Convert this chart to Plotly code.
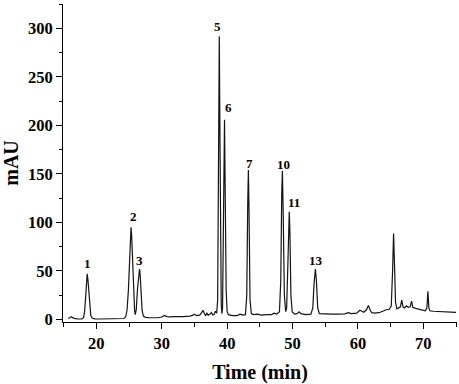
import plotly.graph_objects as go

# Chromatogram trace (time in min, signal in mAU)
time_min = [
    15.7, 16.0, 16.2, 16.45, 16.8, 17.3, 17.8,
    18.05, 18.2, 18.35, 18.5, 18.6, 18.7, 18.85, 19.0, 19.15, 19.4, 19.8,
    20.5, 21.5, 22.5, 23.5, 24.2,
    24.5, 24.7, 24.9, 25.05, 25.2, 25.3, 25.4, 25.55, 25.7, 25.85, 25.95,
    26.1, 26.3, 26.5, 26.6, 26.7, 26.85, 27.0, 27.2, 27.5,
    28.0, 28.5, 29.0, 29.5, 30.0, 30.4, 30.8, 31.3, 31.8, 32.3, 32.8, 33.3,
    33.8, 34.3, 34.8, 35.0, 35.3, 35.8, 36.1, 36.3, 36.5, 36.7, 36.9, 37.1,
    37.4, 37.6, 37.8, 38.0, 38.2, 38.4,
    38.55, 38.68, 38.8, 38.9, 39.0, 39.1, 39.2,
    39.3, 39.45, 39.6, 39.72, 39.85, 40.0, 40.2,
    40.8, 41.5, 42.0, 42.4, 42.8,
    43.0, 43.15, 43.25, 43.35, 43.5, 43.7, 44.0, 44.6, 45.2, 46.0, 46.8,
    47.2, 47.6, 48.0,
    48.2, 48.35, 48.45, 48.57, 48.75, 48.95, 49.1,
    49.3, 49.45, 49.5, 49.6, 49.75, 49.95, 50.3, 50.7, 51.0, 51.3, 52.0,
    52.8, 53.1,
    53.3, 53.5, 53.65, 53.85, 54.1, 55.0, 56.0, 57.0, 58.0, 58.5, 59.0,
    59.8, 60.1, 60.3, 60.6, 60.9, 61.3, 61.6, 61.85, 62.1, 62.6, 63.2, 63.8,
    64.3, 64.8, 65.1,
    65.3, 65.45, 65.6, 65.75, 65.95, 66.2, 66.5, 66.7, 66.9, 67.1, 67.4,
    67.7, 68.0, 68.2, 68.4, 68.8, 69.3, 69.8, 70.3, 70.55, 70.7, 70.85,
    71.0, 71.5, 72.5, 73.5, 74.5, 75.0,
]
signal_mau = [
    1.0, 1.8, 2.8, 1.6, 0.8, 0.5, 0.6,
    2, 8, 22, 40, 47, 42, 25, 10, 4, 1.2, 0.6,
    0.5, 0.5, 0.5, 0.6, 1.0,
    3, 10, 30, 60, 88, 95, 86, 55, 25, 9, 5,
    10, 32, 50, 52, 46, 25, 9, 3.5, 2.2,
    2, 1.8, 2.3, 1.8, 2.5, 4.2, 3, 2.6, 3, 2.8, 3.2, 3,
    3.3, 3.4, 4.5, 5.5, 4, 4.5, 7, 9.5, 6.5, 4, 6.5, 4.5,
    5.5, 7.2, 4.5, 5, 8.5, 6.5,
    20, 150, 292, 190, 60, 15, 6,
    12, 110, 206, 120, 30, 8, 5,
    4, 4, 5.5, 4.5, 5,
    25, 120, 154, 110, 20, 6, 5, 5.5, 4.5, 5, 5,
    6.5, 5.5, 8,
    40, 130, 153, 110, 25, 8, 12,
    60, 105, 111, 90, 25, 8, 5.5, 6, 8, 6, 5,
    5.5, 12,
    38, 52, 40, 12, 6, 5.5, 5.5, 5.5, 5.8, 7, 6,
    6.5, 8.5, 9.5, 8.5, 7.5, 10, 14.5, 10, 7, 6.5, 7, 8.5,
    10, 10.5, 14,
    50, 88.5, 55, 18, 11, 12, 13, 20, 13, 12, 14,
    12.5, 13, 19, 12.5, 11.5, 10.5, 9.5, 9, 12, 29, 12,
    9, 8.5, 8, 7.6, 7.4, 7.3,
]

# Peak labels
peak_labels = ["1", "2", "3", "5", "6", "7", "10", "11", "13"]
label_time = [18.6, 25.65, 26.67, 38.5, 40.2, 43.4, 48.6, 50.27, 53.6]
label_mau = [57.6, 106.3, 60.7, 301.8, 218.9, 161.2, 159.5, 121, 61]

x_ticks = [20, 30, 40, 50, 60, 70]
y_ticks = [0, 50, 100, 150, 200, 250, 300]

FONT = "Liberation Serif"

fig = go.Figure()
fig.add_trace(go.Scatter(
    x=time_min, y=signal_mau, mode="lines",
    line=dict(color="#141414", width=1.2),
    showlegend=False, hoverinfo="skip",
))

for txt, tx, ty in zip(peak_labels, label_time, label_mau):
    fig.add_annotation(
        x=tx, y=ty, text=f"<b>{txt}</b>", showarrow=False,
        xanchor="center", yanchor="middle",
        font=dict(family=FONT, size=13, color="black"),
    )

fig.update_layout(
    width=459, height=384,
    margin=dict(l=63, r=2, t=4, b=62),
    paper_bgcolor="white", plot_bgcolor="white",
    font=dict(family=FONT, color="black"),
)
fig.update_xaxes(
    range=[14.9, 75.15],
    tickvals=x_ticks, ticktext=[f"<b>{v}</b>" for v in x_ticks],
    ticks="outside", ticklen=6, tickwidth=1, tickcolor="black",
    minor=dict(dtick=5, tick0=0, ticks="outside", ticklen=3.5,
               tickwidth=1, tickcolor="black", showgrid=False),
    showline=True, linecolor="black", linewidth=1,
    showgrid=False, zeroline=False,
    tickfont=dict(family=FONT, size=16.5, color="black"),
    title=dict(text="<b>Time (min)</b>", standoff=14,
               font=dict(family=FONT, size=20, color="black")),
)
fig.update_yaxes(
    range=[-2.6, 325.2],
    tickvals=y_ticks, ticktext=[f"<b>{v}</b>" for v in y_ticks],
    ticks="outside", ticklen=6, tickwidth=1, tickcolor="black",
    minor=dict(dtick=25, tick0=0, ticks="outside", ticklen=3.5,
               tickwidth=1, tickcolor="black", showgrid=False),
    showline=True, linecolor="black", linewidth=1,
    showgrid=False, zeroline=False,
    tickfont=dict(family=FONT, size=16.5, color="black"),
    title=dict(text="<b>mAU</b>", standoff=8,
               font=dict(family=FONT, size=20, color="black")),
)

fig.write_html(
    "out.html",
    config={"displayModeBar": False},
    post_script="document.body.style.margin='0';document.body.style.overflow='hidden';",
)
